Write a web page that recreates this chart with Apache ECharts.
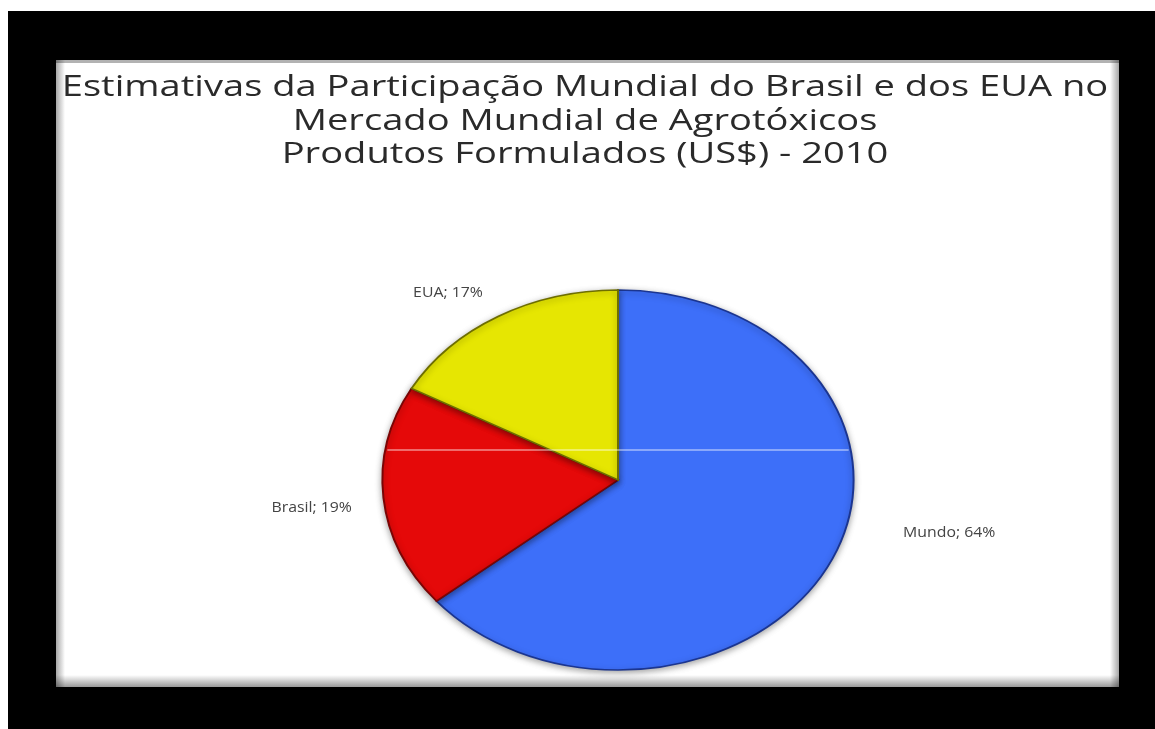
<!DOCTYPE html>
<html><head><meta charset="utf-8">
<script src="https://cdn.jsdelivr.net/npm/echarts@6/dist/echarts.min.js"></script>
<style>html,body{margin:0;padding:0;background:#fff;}#c{width:1155px;height:729px;}</style>
</head><body><div id="c"></div>
<script>
// ---- data ----
const categories = ['Mundo', 'Brasil', 'EUA'];
const shares = [64, 19, 17];
const titleLines = [
  'Estimativas da Participação Mundial do Brasil e dos EUA no',
  'Mercado Mundial de Agrotóxicos',
  'Produtos Formulados (US$) - 2010'
];

// ---- style / layout ----
const sliceColors = ['#3d6ff9', '#e50909', '#e6e602'];
const sliceEdges = ['#1b3590', '#7a0505', '#6e6e00'];
const PIE = { cx: 618, cy: 480, r: 190, sx: 1.24 };
const LABEL_R = 222;
const labelNudge = [[36, -42], [8, 7], [5, 4]];
const TEXT_STRETCH = 1.27;
const LABEL_STRETCH = 1.13;
const total = shares.reduce((a, b) => a + b, 0);

const chart = echarts.init(document.getElementById('c'), null, { renderer: 'canvas' });

function renderSlice(params, api) {
  const i = params.dataIndex;
  let before = 0;
  for (let k = 0; k < i; k++) before += shares[k];
  const v = api.value(0);
  const start = -Math.PI / 2 + before / total * Math.PI * 2;
  const end = start + v / total * Math.PI * 2;
  const mid = (start + end) / 2;
  const left = Math.cos(mid) < 0;
  const lx = PIE.cx + Math.cos(mid) * LABEL_R * PIE.sx + labelNudge[i][0];
  const ly = PIE.cy + Math.sin(mid) * LABEL_R + labelNudge[i][1];
  return {
    type: 'group',
    children: [
      {
        type: 'sector',
        shape: { cx: PIE.cx, cy: PIE.cy, r: PIE.r, r0: 0, startAngle: start, endAngle: end, clockwise: true },
        originX: PIE.cx, originY: PIE.cy, scaleX: PIE.sx,
        style: {
          fill: sliceColors[i], stroke: sliceEdges[i], lineWidth: 1.6,
          shadowBlur: 6, shadowColor: 'rgba(0,0,0,0.35)', shadowOffsetY: 2
        }
      },
      {
        type: 'text', x: lx, y: ly, scaleX: LABEL_STRETCH,
        style: {
          text: categories[i] + '; ' + v + '%',
          fill: '#444', font: '14px "Open Sans"',
          align: left ? 'right' : 'left', verticalAlign: 'middle',
          textAlign: left ? 'right' : 'left', textVerticalAlign: 'middle'
        }
      }
    ]
  };
}

const hlDy = 30;
const hlHalf = PIE.r * PIE.sx * Math.sqrt(1 - (hlDy / PIE.r) * (hlDy / PIE.r)) - 2;

chart.setOption({
  animation: false,
  backgroundColor: '#ffffff',
  graphic: [
    { type: 'rect', z: -10, shape: { x: 8, y: 11, width: 1147, height: 718 }, style: { fill: '#000' } },
    { type: 'rect', z: -9, shape: { x: 56, y: 60, width: 1063, height: 627 }, style: { fill: '#fff' } },
    { type: 'rect', z: -8, shape: { x: 56, y: 60, width: 9, height: 627 },
      style: { fill: new echarts.graphic.LinearGradient(0, 0, 1, 0, [{ offset: 0, color: 'rgba(0,0,0,0.35)' }, { offset: 1, color: 'rgba(0,0,0,0)' }]) } },
    { type: 'rect', z: -8, shape: { x: 1110, y: 60, width: 9, height: 627 },
      style: { fill: new echarts.graphic.LinearGradient(0, 0, 1, 0, [{ offset: 0, color: 'rgba(0,0,0,0)' }, { offset: 1, color: 'rgba(0,0,0,0.35)' }]) } },
    { type: 'rect', z: -8, shape: { x: 56, y: 675, width: 1063, height: 12 },
      style: { fill: new echarts.graphic.LinearGradient(0, 0, 0, 1, [{ offset: 0, color: 'rgba(0,0,0,0)' }, { offset: 1, color: 'rgba(0,0,0,0.4)' }]) } },
    { type: 'rect', z: -8, shape: { x: 56, y: 60, width: 1063, height: 3 },
      style: { fill: 'rgba(0,0,0,0.3)' } },
    { type: 'text', z: 20, x: 585, y: 71, scaleX: TEXT_STRETCH,
      style: {
        text: titleLines.join('\n'), font: '30px "Open Sans"', lineHeight: 33.5,
        fill: '#2a2a2a', align: 'center', verticalAlign: 'top',
        textAlign: 'center', textVerticalAlign: 'top'
      } },
    { type: 'line', z: 50, shape: { x1: PIE.cx - hlHalf, y1: PIE.cy - hlDy, x2: PIE.cx + hlHalf, y2: PIE.cy - hlDy },
      style: { stroke: 'rgba(255,255,255,0.4)', lineWidth: 2 } }
  ],
  series: [{
    type: 'custom',
    coordinateSystem: 'none',
    renderItem: renderSlice,
    data: shares.map((v, i) => ({ name: categories[i], value: v }))
  }]
});
</script></body></html>
